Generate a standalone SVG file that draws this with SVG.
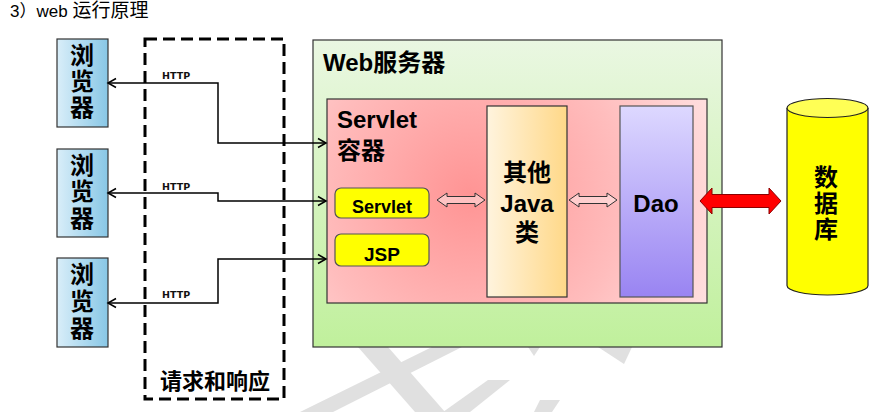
<svg xmlns="http://www.w3.org/2000/svg" width="888" height="412" viewBox="0 0 888 412">
<defs>
<linearGradient id="gBrowser" x1="0" y1="0" x2="1" y2="0"><stop offset="0" stop-color="#d9eef9"/><stop offset="1" stop-color="#88c7e6"/></linearGradient>
<linearGradient id="gWeb" x1="0" y1="0" x2="0" y2="1"><stop offset="0" stop-color="#eaf7e2"/><stop offset="1" stop-color="#c0f09c"/></linearGradient>
<radialGradient id="gCont" cx="470" cy="195" r="260" gradientUnits="userSpaceOnUse"><stop offset="0" stop-color="#ff9494"/><stop offset="0.6" stop-color="#ffbdbd"/><stop offset="1" stop-color="#ffe0e0"/></radialGradient>
<linearGradient id="gJava" x1="0" y1="0" x2="1" y2="0"><stop offset="0" stop-color="#fff4de"/><stop offset="1" stop-color="#ffd888"/></linearGradient>
<linearGradient id="gDao" x1="0" y1="0" x2="0" y2="1"><stop offset="0" stop-color="#ddd8ff"/><stop offset="1" stop-color="#9984f2"/></linearGradient>
<marker id="arr" markerWidth="12" markerHeight="12" refX="10" refY="6" orient="auto-start-reverse" markerUnits="userSpaceOnUse"><path d="M2,1.5 L10,6 L2,10.5" fill="none" stroke="#000" stroke-width="1.5"/></marker>
<style>
.zh{font-family:"Liberation Sans","Noto Sans CJK SC",sans-serif;font-weight:bold;fill:#000}
.browser rect{fill:url(#gBrowser);stroke:#333;stroke-width:1.2}
.ybox{fill:#ffff00;stroke:#555;stroke-width:1.2}
.conn path{fill:none;stroke:#000;stroke-width:1.5;marker-start:url(#arr);marker-end:url(#arr)}
.http{font-family:"DejaVu Sans",sans-serif;font-weight:bold;font-size:9.5px;fill:#111}
.hollow{fill:#ffecec;fill-opacity:0.5;stroke:#333;stroke-width:1}
.wm{fill:#e0e0e0}
</style>
</defs>
<rect width="888" height="412" fill="#fff"/>
<g id="watermark">
<polygon class="wm" points="358,347 388,347 445,412 415,412"/>
<polygon class="wm" points="432,347 462,347 333,412 300,412"/>
<polygon class="wm" points="488,380 510,380 470,412 443,412"/>
<polygon class="wm" points="528,347 540,347 534,356"/>
<polygon class="wm" points="598,347 632,347 624,364"/>
<polygon class="wm" points="540,400 560,400 552,412 534,412"/>
</g>
<text x="10" y="17" style="font-family:'Liberation Sans','Noto Sans CJK SC',sans-serif;font-size:17px;fill:#000">3）web <tspan style="font-size:19px">运行原理</tspan></text>
<g id="req-resp">
<rect x="145" y="39" width="139" height="360" fill="none" stroke="#000" stroke-width="3" stroke-dasharray="12 6"/>
<text class="zh" x="215" y="389" font-size="22" text-anchor="middle">请求和响应</text>
</g>
<g id="browser1" class="browser">
<rect x="57" y="39" width="51" height="88"/>
<text class="zh" font-size="24" text-anchor="middle"><tspan x="82" y="64">浏</tspan><tspan x="82" y="90">览</tspan><tspan x="82" y="116">器</tspan></text>
</g>
<g id="browser2" class="browser">
<rect x="57" y="149" width="51" height="88"/>
<text class="zh" font-size="24" text-anchor="middle"><tspan x="82" y="174">浏</tspan><tspan x="82" y="200">览</tspan><tspan x="82" y="227">器</tspan></text>
</g>
<g id="browser3" class="browser">
<rect x="57" y="258" width="51" height="89"/>
<text class="zh" font-size="24" text-anchor="middle"><tspan x="82" y="283">浏</tspan><tspan x="82" y="310">览</tspan><tspan x="82" y="337">器</tspan></text>
</g>
<g id="web-server">
<rect x="313" y="40" width="409" height="307" fill="url(#gWeb)" stroke="#333" stroke-width="1.2"/>
<text class="zh" x="323" y="71" font-size="24">Web服务器</text>
</g>
<g id="servlet-container">
<rect x="327" y="99" width="380" height="204" fill="url(#gCont)" stroke="#333" stroke-width="1.2"/>
<text class="zh" x="337" y="128" font-size="24">Servlet</text>
<text class="zh" x="337" y="159" font-size="24">容器</text>
</g>
<g id="servlet">
<rect class="ybox" x="335" y="188" width="94" height="30" rx="6"/>
<text class="zh" x="382" y="213" font-size="18" text-anchor="middle">Servlet</text>
</g>
<g id="jsp">
<rect class="ybox" x="335" y="234" width="94" height="32" rx="6"/>
<text class="zh" x="382" y="261" font-size="19" text-anchor="middle">JSP</text>
</g>
<g id="java">
<rect x="487" y="106" width="80" height="191" fill="url(#gJava)" stroke="#333" stroke-width="1.2"/>
<text class="zh" font-size="24" text-anchor="middle"><tspan x="527" y="181">其他</tspan><tspan x="527" y="212">Java</tspan><tspan x="527" y="241">类</tspan></text>
</g>
<g id="dao">
<rect x="620" y="106" width="73" height="191" fill="url(#gDao)" stroke="#555" stroke-width="1.2"/>
<text class="zh" x="656" y="212" font-size="24" text-anchor="middle">Dao</text>
</g>
<g id="database">
<path d="M787,108 V285.5 A40.5,9.5 0 0 0 868,285.5 V108" fill="#ffff00" stroke="#222" stroke-width="1.2"/>
<ellipse cx="827.5" cy="108" rx="40.5" ry="9.5" fill="#ffff55" stroke="#222" stroke-width="1.2"/>
<text class="zh" font-size="24" text-anchor="middle"><tspan x="826" y="186">数</tspan><tspan x="826" y="212">据</tspan><tspan x="826" y="238">库</tspan></text>
</g>
<g id="connectors">
<g class="conn">
<path d="M108,83 H218 V143 H326"/>
<path d="M108,193 H218 V201 H326"/>
<path d="M108,303 H218 V259 H326"/>
</g>
<text class="http" x="162" y="79">HTTP</text>
<text class="http" x="162" y="190">HTTP</text>
<text class="http" x="162" y="298">HTTP</text>
<path class="hollow" d="M437,200 L447,193 V196.5 H475 V193 L485,200 L475,207 V203.5 H447 V207 Z"/>
<path class="hollow" d="M569,200 L579,193 V196.5 H607 V193 L617,200 L607,207 V203.5 H579 V207 Z"/>
<path d="M700,201 L712,188 V194.5 H769 V188 L781,201 L769,214 V207.5 H712 V214 Z" fill="#ff0000" stroke="#8b0000" stroke-width="1"/>
</g>
</svg>
